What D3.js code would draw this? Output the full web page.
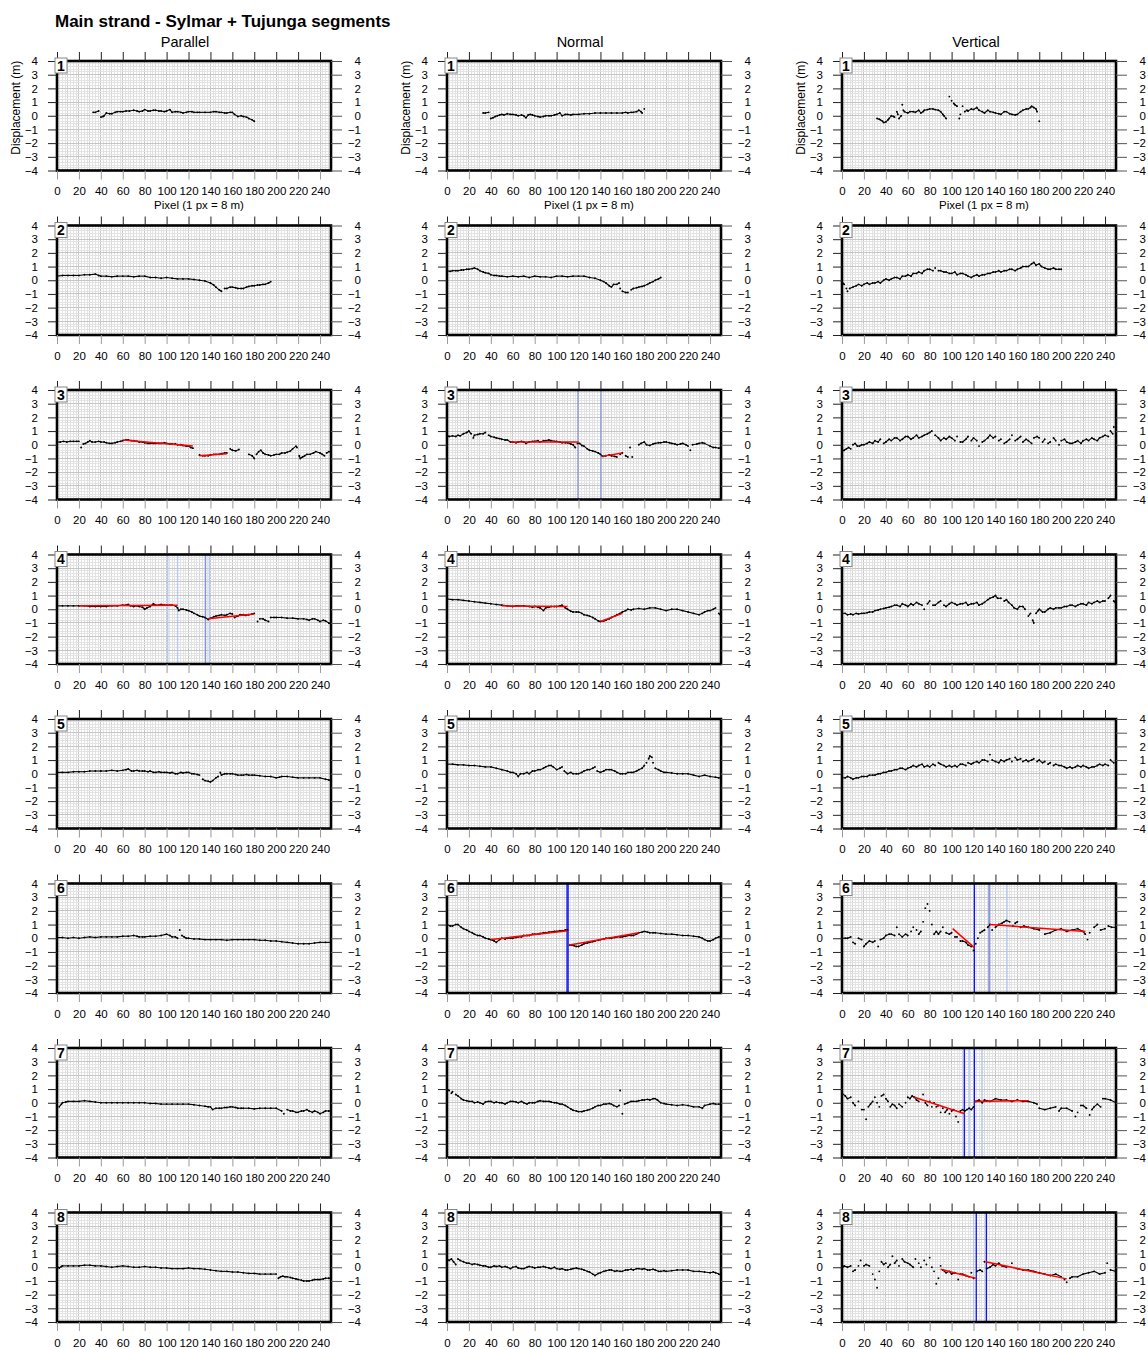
<!DOCTYPE html>
<html>
<head>
<meta charset="utf-8">
<script src="https://cdn.jsdelivr.net/npm/d3@7"></script>
<style>
  body { margin: 0; background: #fff; }
  text { font-family: "Liberation Sans", Arial, Helvetica, sans-serif; fill: #000; }
</style>
</head>
<body>
<svg id="fig" width="1148" height="1349"></svg>
<script>
// ---- labels and axes ----
const chartTitle = "Main strand - Sylmar + Tujunga segments";
const components = ["Parallel", "Normal", "Vertical"];
const profiles = [1, 2, 3, 4, 5, 6, 7, 8];
const xTickValues = [0, 20, 40, 60, 80, 100, 120, 140, 160, 180, 200, 220, 240];
const yTickValues = [-4, -3, -2, -1, 0, 1, 2, 3, 4];
const xDomain = [0, 250];
const yDomain = [-4, 4];
const xAxisTitle = "Pixel (1 px = 8 m)";
const yAxisTitle = "Displacement (m)";

// ---- displacement profiles: [pixel, metres] ----
const par1 = [[33,0.25],[35,0.25],[38,0.35],[40,-0.1],[42,-0.05],[43,0.0],[45,0.2],[48,0.15],[50,0.15],[53,0.25],[55,0.3],[58,0.3],[60,0.3],[63,0.35],[66,0.35],[70,0.4],[73,0.35],[75,0.3],[78,0.35],[80,0.45],[83,0.35],[85,0.35],[88,0.4],[90,0.4],[93,0.35],[95,0.35],[98,0.3],[100,0.35],[103,0.45],[105,0.25],[108,0.3],[110,0.3],[113,0.25],[115,0.2],[118,0.25],[120,0.3],[123,0.3],[125,0.25],[128,0.25],[130,0.25],[135,0.25],[140,0.25],[143,0.3],[145,0.3],[148,0.25],[150,0.25],[153,0.2],[155,0.2],[158,0.25],[160,0.25],[162,0.1],[165,-0.05],[168,0.0],[170,-0.05],[173,-0.1],[175,-0.2],[178,-0.3],[180,-0.4]];
const nor1 = [[33,0.2],[35,0.2],[38,0.25],[40,-0.2],[42,-0.15],[44,-0.05],[46,0.0],[48,0.05],[50,0.1],[52,0.05],[55,0.15],[58,0.1],[60,0.1],[63,0.05],[65,0.0],[68,0.05],[70,0.0],[72,-0.15],[74,0.05],[76,0.1],[78,0.05],[80,0.0],[83,-0.05],[85,-0.1],[88,-0.05],[90,0.0],[93,0.0],[95,0.0],[98,0.05],[100,0.1],[103,0.2],[105,0.0],[108,0.1],[110,0.1],[113,0.05],[115,0.1],[120,0.1],[125,0.15],[130,0.15],[135,0.2],[140,0.2],[145,0.2],[150,0.2],[155,0.2],[160,0.2],[163,0.25],[165,0.2],[168,0.25],[170,0.25],[173,0.3],[175,0.4],[177,0.3],[178,0.2],[180,0.5]];
const ver1 = [[32,-0.2],[34,-0.25],[35,-0.3],[37,-0.4],[38,-0.5],[40,-0.45],[42,-0.3],[43,-0.2],[45,0.0],[47,-0.05],[48,-0.1],[50,0.3],[51,0.1],[52,-0.2],[54,0.0],[55,0.8],[56,0.4],[57,0.3],[60,0.2],[62,0.3],[65,0.3],[67,0.25],[70,0.4],[72,0.2],[74,0.3],[75,0.4],[78,0.45],[80,0.5],[83,0.5],[85,0.45],[88,0.4],[90,0.3],[92,0.1],[93,0.0],[95,-0.2],[98,1.4],[100,1.1],[102,0.9],[103,0.8],[105,0.7],[107,-0.2],[108,0.1],[110,0.7],[112,0.3],[114,0.4],[115,0.35],[118,0.5],[120,0.45],[123,0.6],[125,0.4],[128,0.3],[130,0.2],[133,0.4],[135,0.3],[138,0.25],[140,0.2],[143,0.15],[145,0.1],[148,0.3],[150,0.3],[153,0.15],[155,0.1],[158,0.05],[160,0.1],[163,0.3],[165,0.4],[168,0.5],[170,0.5],[172,0.6],[173,0.7],[175,0.6],[177,0.5],[178,0.3],[180,-0.4]];

const par2 = [[0,0.3],[5,0.35],[10,0.35],[15,0.35],[20,0.35],[25,0.4],[30,0.4],[35,0.45],[38,0.35],[40,0.3],[45,0.3],[50,0.25],[55,0.3],[60,0.3],[65,0.3],[70,0.25],[75,0.3],[80,0.3],[85,0.2],[90,0.2],[95,0.15],[100,0.2],[105,0.15],[110,0.1],[115,0.1],[120,0.1],[125,0.05],[130,0.0],[135,-0.05],[140,-0.2],[143,-0.35],[145,-0.5],[148,-0.7],[150,-0.8],[153,-0.6],[155,-0.6],[158,-0.5],[160,-0.5],[163,-0.55],[165,-0.6],[168,-0.6],[170,-0.6],[173,-0.5],[175,-0.45],[178,-0.4],[180,-0.4],[183,-0.35],[185,-0.35],[188,-0.3],[190,-0.3],[193,-0.2],[195,-0.1]];
const nor2 = [[0,0.7],[3,0.65],[5,0.7],[8,0.7],[10,0.7],[13,0.75],[15,0.75],[18,0.8],[20,0.8],[23,0.85],[25,0.9],[28,0.8],[30,0.7],[33,0.6],[35,0.55],[38,0.5],[40,0.4],[43,0.35],[45,0.35],[48,0.3],[50,0.3],[55,0.25],[60,0.3],[65,0.25],[70,0.3],[75,0.2],[80,0.3],[85,0.25],[90,0.25],[95,0.2],[100,0.3],[105,0.3],[110,0.25],[115,0.3],[120,0.3],[125,0.3],[130,0.2],[135,0.15],[140,0.0],[143,-0.1],[145,-0.2],[148,-0.4],[150,-0.5],[152,-0.3],[155,-0.3],[157,-0.2],[158,-0.6],[160,-0.8],[163,-0.9],[165,-0.9],[168,-0.7],[170,-0.6],[173,-0.55],[175,-0.5],[178,-0.45],[180,-0.4],[183,-0.3],[185,-0.2],[188,-0.1],[190,0.0],[193,0.1],[195,0.2]];
const ver2 = [[0,-0.1],[2,-0.3],[4,-0.6],[5,-0.8],[7,-0.6],[10,-0.5],[13,-0.4],[15,-0.3],[18,-0.4],[20,-0.3],[23,-0.2],[25,-0.3],[28,-0.2],[30,-0.2],[33,-0.1],[35,-0.2],[38,0.0],[40,0.1],[43,0.0],[45,0.1],[48,0.2],[50,0.2],[53,0.1],[55,0.3],[58,0.3],[60,0.4],[63,0.3],[65,0.5],[68,0.5],[70,0.6],[73,0.5],[75,0.7],[78,0.8],[80,0.8],[83,0.7],[85,0.9],[88,0.7],[90,0.7],[93,0.6],[95,0.6],[98,0.5],[100,0.5],[103,0.6],[105,0.4],[108,0.5],[110,0.5],[113,0.4],[115,0.3],[118,0.2],[120,0.3],[123,0.4],[125,0.3],[128,0.4],[130,0.4],[133,0.5],[135,0.5],[138,0.6],[140,0.6],[143,0.7],[145,0.6],[148,0.7],[150,0.7],[153,0.8],[155,0.8],[158,0.7],[160,0.8],[163,0.9],[165,1.0],[168,1.0],[170,1.0],[173,1.2],[175,1.3],[177,1.1],[180,1.2],[182,1.0],[185,0.9],[188,0.8],[190,0.8],[193,0.9],[195,0.8],[198,0.8],[200,0.8]];

const par3 = [[0,0.2],[3,0.2],[6,0.25],[9,0.2],[12,0.25],[15,0.25],[18,0.25],[20,0.25],[22,-0.2],[24,0.05],[26,0.1],[28,0.2],[30,0.3],[32,0.2],[35,0.2],[38,0.25],[40,0.2],[43,0.2],[45,0.15],[48,0.1],[50,0.1],[53,0.15],[55,0.2],[58,0.25],[60,0.3],[63,0.35],[65,0.35],[68,0.3],[70,0.3],[73,0.25],[75,0.2],[78,0.2],[80,0.15],[83,0.1],[85,0.1],[88,0.1],[90,0.1],[93,0.1],[95,0.1],[98,0.15],[100,0.1],[103,0.05],[105,0.05],[108,0.05],[110,0.0],[113,0.0],[115,-0.05],[118,-0.1],[120,-0.1],[122,-0.2],[124,-0.25],[130,-0.75],[133,-0.8],[135,-0.8],[138,-0.8],[140,-0.75],[143,-0.7],[145,-0.7],[148,-0.7],[150,-0.65],[153,-0.6],[155,-0.6],[158,-0.3],[160,-0.4],[163,-0.45],[166,-0.35],[175,-0.7],[178,-0.8],[180,-1.0],[182,-0.7],[184,-0.5],[186,-0.4],[188,-0.6],[190,-0.7],[193,-0.75],[195,-0.8],[198,-0.75],[200,-0.7],[203,-0.7],[205,-0.6],[208,-0.6],[210,-0.55],[213,-0.45],[215,-0.3],[218,-0.1],[219,-0.2],[221,-0.8],[222,-1.0],[224,-0.9],[226,-0.8],[228,-0.7],[231,-0.7],[234,-0.6],[236,-0.5],[240,-0.6],[242,-0.7],[244,-0.8],[246,-0.6],[248,-0.5],[250,-0.55]];
const nor3 = [[0,0.7],[2,0.6],[5,0.65],[8,0.6],[10,0.7],[12,0.65],[15,0.8],[18,0.9],[20,1.0],[22,0.8],[24,0.5],[25,0.7],[28,0.75],[30,0.8],[33,0.8],[35,0.9],[38,0.7],[40,0.6],[43,0.55],[45,0.5],[48,0.45],[50,0.4],[53,0.35],[55,0.35],[58,0.2],[60,0.2],[63,0.15],[65,0.2],[68,0.25],[70,0.2],[72,0.1],[75,0.2],[78,0.25],[80,0.25],[83,0.3],[85,0.2],[88,0.3],[90,0.3],[93,0.35],[95,0.3],[98,0.25],[100,0.25],[103,0.2],[105,0.15],[108,0.15],[110,0.15],[113,0.05],[115,0.0],[117,-0.2],[119,0.1],[121,0.1],[123,-0.05],[125,-0.1],[128,-0.3],[130,-0.4],[133,-0.45],[135,-0.5],[138,-0.6],[140,-0.7],[142,-0.85],[145,-0.8],[148,-0.75],[150,-0.8],[153,-0.85],[155,-0.9],[158,-0.7],[160,-0.6],[163,-0.8],[165,-0.9],[167,-0.2],[169,-0.9],[175,0.0],[177,0.1],[180,0.2],[182,0.0],[185,-0.05],[188,0.05],[190,0.1],[193,0.15],[195,0.15],[198,0.2],[200,0.2],[203,0.15],[205,0.1],[208,0.05],[210,0.0],[213,0.05],[215,0.1],[218,0.0],[220,-0.1],[222,-0.4],[224,0.0],[228,0.05],[230,0.1],[233,0.15],[235,0.1],[240,-0.1],[243,-0.2],[245,-0.2],[248,-0.25],[250,-0.2]];
const ver3 = [[0,-0.5],[2,-0.4],[4,-0.3],[6,-0.2],[8,-0.3],[10,0.0],[12,0.1],[14,-0.1],[16,-0.1],[18,0.0],[20,0.0],[23,0.1],[25,0.2],[28,0.1],[30,0.3],[33,0.2],[35,0.4],[38,0.1],[40,0.2],[43,0.4],[45,0.3],[48,0.5],[50,0.5],[53,0.3],[55,0.4],[58,0.6],[60,0.6],[63,0.4],[65,0.5],[68,0.7],[70,0.5],[73,0.6],[75,0.7],[78,0.8],[80,0.9],[82,1.0],[85,0.7],[88,0.5],[90,0.3],[93,0.5],[95,0.4],[98,0.6],[100,0.5],[103,0.3],[105,0.6],[108,0.2],[110,0.2],[113,0.4],[115,0.6],[118,0.3],[120,0.5],[123,0.3],[125,-0.1],[128,0.2],[130,0.3],[133,0.5],[135,0.7],[138,0.5],[140,0.6],[143,0.3],[145,0.4],[148,0.1],[150,0.2],[153,0.4],[155,0.7],[158,0.3],[160,0.4],[163,0.6],[165,0.2],[168,0.4],[170,0.3],[173,0.1],[175,0.5],[178,0.6],[180,0.5],[183,0.2],[185,0.4],[188,0.1],[190,0.2],[193,0.5],[195,0.3],[198,0.0],[200,0.3],[203,0.4],[205,0.2],[208,0.1],[210,0.1],[213,0.2],[215,0.3],[218,0.1],[220,0.3],[223,0.4],[225,0.3],[228,0.5],[230,0.4],[233,0.3],[235,0.5],[238,0.6],[240,0.7],[243,0.6],[245,1.0],[247,0.8],[248,1.3],[250,1.0]];

const par4 = [[0,0.25],[5,0.25],[10,0.25],[15,0.25],[20,0.25],[25,0.25],[30,0.2],[35,0.2],[40,0.2],[45,0.2],[50,0.25],[55,0.25],[60,0.3],[63,0.3],[65,0.35],[67,0.25],[70,0.2],[73,0.25],[75,0.2],[78,0.15],[80,0.0],[82,0.1],[85,0.2],[88,0.4],[90,0.3],[93,0.3],[95,0.35],[98,0.3],[100,0.3],[103,0.3],[105,0.3],[108,0.25],[110,0.1],[111,-0.1],[113,0.0],[115,0.0],[118,-0.05],[120,-0.1],[123,-0.2],[125,-0.3],[128,-0.4],[130,-0.5],[133,-0.55],[135,-0.6],[138,-0.75],[140,-0.65],[143,-0.55],[145,-0.5],[148,-0.45],[150,-0.4],[153,-0.45],[155,-0.4],[158,-0.3],[160,-0.35],[162,-0.6],[165,-0.5],[167,-0.4],[170,-0.4],[172,-0.45],[175,-0.4],[178,-0.35],[180,-0.3],[183,-0.9],[185,-0.7],[188,-0.7],[190,-0.8],[193,-0.9],[195,-0.6],[198,-0.6],[200,-0.6],[205,-0.6],[210,-0.65],[215,-0.65],[220,-0.7],[225,-0.7],[228,-0.75],[230,-0.8],[233,-0.7],[235,-0.7],[238,-0.8],[240,-0.9],[243,-0.8],[245,-0.85],[248,-1.0],[250,-1.1]];
const nor4 = [[0,0.75],[5,0.7],[10,0.7],[15,0.65],[20,0.6],[25,0.55],[30,0.5],[35,0.45],[40,0.4],[45,0.35],[50,0.3],[55,0.25],[60,0.2],[63,0.25],[65,0.25],[70,0.25],[75,0.2],[78,0.15],[80,0.2],[83,0.15],[85,0.1],[88,-0.1],[90,0.1],[93,0.15],[95,0.2],[98,0.2],[100,0.2],[103,0.25],[105,0.3],[108,0.1],[110,0.0],[113,-0.15],[115,-0.2],[118,-0.2],[120,-0.2],[123,-0.3],[125,-0.4],[128,-0.45],[130,-0.5],[133,-0.6],[135,-0.7],[138,-0.85],[140,-0.9],[143,-0.85],[145,-0.8],[148,-0.7],[150,-0.6],[153,-0.5],[155,-0.4],[158,-0.3],[160,-0.2],[163,-0.1],[165,0.0],[168,-0.05],[170,0.0],[175,0.05],[180,0.0],[185,0.1],[190,0.1],[195,0.0],[200,-0.1],[205,0.0],[210,0.0],[215,-0.1],[220,-0.2],[225,-0.3],[230,-0.4],[233,-0.3],[235,-0.2],[238,-0.1],[240,-0.1],[243,0.0],[245,0.1],[248,-0.3],[250,-0.5]];
const ver4 = [[0,-0.3],[3,-0.3],[5,-0.4],[8,-0.35],[10,-0.4],[13,-0.3],[15,-0.35],[18,-0.3],[20,-0.3],[23,-0.25],[25,-0.2],[28,-0.2],[30,-0.1],[33,-0.05],[35,0.0],[38,0.05],[40,0.1],[43,0.15],[45,0.2],[48,0.3],[50,0.3],[53,0.2],[55,0.4],[58,0.3],[60,0.2],[63,0.4],[65,0.3],[68,0.5],[70,0.4],[73,0.3],[75,0.0],[78,0.4],[80,0.6],[83,0.3],[85,0.3],[88,0.5],[90,0.6],[93,0.3],[95,0.2],[98,0.4],[100,0.5],[103,0.4],[105,0.3],[108,0.4],[110,0.4],[113,0.5],[115,0.3],[118,0.4],[120,0.4],[123,0.5],[125,0.3],[128,0.4],[130,0.5],[133,0.7],[135,0.8],[138,0.9],[140,1.0],[142,0.8],[145,0.8],[148,0.6],[150,0.7],[152,0.5],[155,0.3],[157,0.1],[160,0.0],[162,0.2],[165,0.2],[167,0.0],[170,-0.5],[172,-0.3],[174,-0.8],[175,-1.0],[177,-0.3],[179,-0.1],[180,0.0],[183,-0.2],[185,-0.2],[188,0.0],[190,0.1],[193,0.0],[195,0.1],[198,0.1],[200,0.1],[203,0.2],[205,0.2],[208,0.3],[210,0.3],[213,0.2],[215,0.3],[218,0.4],[220,0.4],[223,0.3],[225,0.5],[228,0.4],[230,0.5],[233,0.6],[235,0.5],[238,0.6],[240,0.6],[243,0.8],[245,1.0],[248,0.6],[250,0.4]];

const par5 = [[0,0.1],[5,0.1],[10,0.1],[15,0.15],[20,0.15],[25,0.15],[30,0.2],[35,0.2],[40,0.2],[45,0.2],[50,0.25],[55,0.2],[60,0.25],[63,0.3],[65,0.35],[68,0.2],[70,0.2],[73,0.25],[75,0.2],[78,0.2],[80,0.2],[83,0.15],[85,0.2],[88,0.1],[90,0.1],[93,0.15],[95,0.1],[98,0.1],[100,0.1],[103,0.05],[105,0.1],[108,0.0],[110,0.0],[113,0.1],[115,0.05],[118,0.1],[120,0.1],[123,0.0],[125,0.0],[128,-0.05],[130,-0.1],[133,-0.4],[135,-0.5],[138,-0.55],[140,-0.6],[142,-0.5],[145,-0.3],[147,-0.2],[149,0.1],[150,-0.1],[153,0.0],[155,0.0],[158,0.0],[160,0.0],[163,-0.05],[165,-0.1],[168,-0.1],[170,-0.1],[173,-0.05],[175,-0.1],[178,-0.1],[180,-0.1],[185,-0.15],[190,-0.2],[195,-0.2],[200,-0.3],[203,-0.25],[205,-0.2],[210,-0.2],[215,-0.25],[220,-0.3],[225,-0.3],[230,-0.3],[235,-0.3],[240,-0.3],[245,-0.4],[248,-0.45],[250,-0.5]];
const nor5 = [[0,0.7],[5,0.7],[10,0.65],[15,0.65],[20,0.6],[25,0.6],[30,0.55],[35,0.5],[40,0.5],[45,0.4],[50,0.3],[55,0.2],[58,0.1],[60,0.1],[63,0.0],[65,-0.2],[67,0.0],[70,0.0],[73,0.1],[75,0.0],[78,0.2],[80,0.2],[83,0.3],[85,0.3],[88,0.4],[90,0.5],[93,0.6],[95,0.6],[97,0.5],[100,0.3],[103,0.4],[105,0.5],[107,0.2],[110,0.0],[113,0.1],[115,0.0],[118,0.0],[120,0.0],[123,0.1],[125,0.2],[128,0.3],[130,0.3],[133,0.4],[135,0.5],[137,0.2],[140,0.1],[143,0.2],[145,0.3],[148,0.3],[150,0.3],[153,0.2],[155,0.1],[158,0.0],[160,0.0],[163,0.0],[165,0.1],[168,0.1],[170,0.1],[173,0.2],[175,0.3],[178,0.4],[180,0.6],[182,0.8],[184,1.1],[185,1.3],[187,1.2],[188,0.8],[190,0.4],[193,0.3],[195,0.2],[198,0.1],[200,0.1],[205,0.05],[210,0.0],[215,0.0],[220,0.0],[225,-0.1],[230,-0.2],[235,-0.1],[240,-0.2],[245,-0.25],[248,-0.3],[250,-0.3]];
const ver5 = [[0,-0.3],[3,-0.3],[5,-0.2],[8,-0.3],[10,-0.4],[13,-0.3],[15,-0.3],[18,-0.2],[20,-0.2],[23,-0.2],[25,-0.1],[28,-0.1],[30,-0.1],[33,0.0],[35,0.0],[38,0.1],[40,0.1],[43,0.2],[45,0.2],[48,0.3],[50,0.3],[53,0.4],[55,0.4],[58,0.3],[60,0.4],[63,0.5],[65,0.6],[68,0.5],[70,0.6],[73,0.7],[75,0.5],[78,0.6],[80,0.5],[83,0.7],[85,0.6],[88,0.8],[90,0.7],[93,0.6],[95,0.5],[98,0.6],[100,0.5],[103,0.6],[105,0.5],[108,0.7],[110,0.7],[113,0.6],[115,0.8],[118,0.7],[120,0.8],[123,0.9],[125,0.8],[128,1.0],[130,1.0],[133,0.9],[135,1.4],[137,1.0],[140,0.9],[143,0.8],[145,1.0],[148,0.9],[150,1.0],[153,1.1],[155,0.9],[158,1.2],[160,1.0],[163,1.1],[165,0.9],[168,1.0],[170,0.9],[173,1.0],[175,1.1],[178,0.9],[180,1.0],[183,0.8],[185,0.9],[188,0.7],[190,0.8],[193,0.6],[195,0.7],[198,0.6],[200,0.6],[203,0.5],[205,0.4],[208,0.5],[210,0.4],[213,0.5],[215,0.6],[218,0.5],[220,0.6],[223,0.5],[225,0.4],[228,0.5],[230,0.5],[233,0.6],[235,0.7],[238,0.6],[240,0.7],[243,0.6],[245,1.0],[248,0.8],[250,0.6]];

const par6 = [[0,0.05],[5,0.05],[10,0.0],[15,0.05],[20,0.0],[25,0.05],[30,0.1],[35,0.05],[40,0.1],[45,0.1],[50,0.1],[55,0.1],[60,0.15],[65,0.15],[70,0.2],[73,0.15],[75,0.1],[78,0.1],[80,0.1],[85,0.15],[90,0.15],[95,0.2],[100,0.3],[103,0.2],[105,0.1],[108,0.1],[110,0.0],[112,0.6],[114,0.2],[116,0.1],[118,0.0],[120,0.0],[125,-0.05],[130,-0.05],[135,-0.1],[140,-0.1],[145,-0.1],[150,-0.1],[155,-0.15],[160,-0.1],[165,-0.1],[170,-0.1],[175,-0.1],[180,-0.1],[185,-0.15],[190,-0.15],[195,-0.2],[200,-0.2],[205,-0.25],[210,-0.3],[215,-0.35],[220,-0.4],[225,-0.4],[230,-0.4],[235,-0.35],[240,-0.3],[245,-0.3],[250,-0.3]];
const nor6 = [[0,1.0],[3,0.9],[5,0.9],[8,1.0],[10,1.0],[13,0.8],[15,0.7],[18,0.6],[20,0.5],[23,0.4],[25,0.3],[28,0.2],[30,0.2],[33,0.1],[35,0.0],[38,-0.05],[40,-0.1],[43,-0.2],[45,-0.3],[48,-0.1],[50,0.0],[53,-0.05],[55,0.0],[58,0.0],[60,0.0],[63,0.05],[65,0.1],[68,0.1],[70,0.2],[73,0.2],[75,0.2],[78,0.3],[80,0.3],[83,0.3],[85,0.35],[88,0.4],[90,0.4],[93,0.45],[95,0.45],[98,0.5],[100,0.5],[103,0.55],[105,0.55],[108,0.6],[110,0.6],[112,-0.5],[114,-0.5],[116,-0.55],[118,-0.6],[120,-0.6],[123,-0.5],[125,-0.4],[128,-0.35],[130,-0.3],[133,-0.25],[135,-0.2],[138,-0.15],[140,-0.1],[143,-0.05],[145,0.0],[148,0.0],[150,0.0],[153,0.05],[155,0.1],[158,0.1],[160,0.1],[163,0.15],[165,0.2],[168,0.2],[170,0.2],[173,0.3],[175,0.4],[178,0.45],[180,0.5],[183,0.45],[185,0.4],[188,0.4],[190,0.4],[195,0.35],[200,0.3],[205,0.3],[210,0.25],[215,0.2],[220,0.2],[225,0.15],[230,0.1],[233,0.0],[235,-0.1],[238,-0.2],[240,-0.2],[243,-0.1],[245,0.0],[248,0.1],[250,0.1]];
const ver6 = [[0,0.0],[3,0.0],[5,0.0],[8,0.1],[10,-0.3],[12,-0.4],[15,0.0],[18,-0.1],[20,-0.6],[22,-0.4],[25,-0.2],[28,-0.3],[30,-0.2],[33,-0.6],[35,-0.1],[38,0.0],[40,0.2],[43,0.3],[45,0.3],[48,0.2],[50,0.8],[52,0.3],[55,0.1],[58,0.3],[60,0.2],[63,0.5],[65,0.8],[68,0.6],[70,0.3],[72,0.5],[74,1.2],[76,2.2],[78,2.5],[80,2.0],[82,1.0],[84,0.3],[86,0.5],[88,0.3],[90,0.5],[92,0.8],[95,0.4],[98,0.3],[100,0.4],[103,0.1],[105,0.1],[108,-0.2],[110,-0.2],[113,-0.3],[115,-0.5],[118,-0.6],[120,-0.9],[122,-0.4],[124,0.0],[126,0.4],[128,0.5],[130,0.6],[133,0.8],[135,1.0],[137,0.6],[140,0.8],[143,1.0],[146,1.1],[148,1.2],[150,1.3],[153,1.2],[156,0.9],[158,1.1],[160,1.2],[163,0.8],[166,0.9],[170,0.8],[175,0.7],[180,0.6],[185,0.3],[190,0.4],[195,0.6],[200,0.7],[205,0.5],[210,0.6],[215,0.7],[220,0.5],[222,0.3],[224,-0.1],[226,0.4],[230,0.8],[233,1.0],[236,0.6],[240,0.7],[243,0.9],[246,0.8],[250,0.8]];

const par7 = [[0,0.0],[2,-0.3],[4,-0.1],[5,0.0],[8,0.05],[10,0.1],[15,0.1],[20,0.1],[25,0.15],[30,0.1],[35,0.05],[40,0.0],[45,0.0],[50,0.0],[55,0.0],[60,0.0],[65,0.0],[70,0.0],[75,0.0],[80,0.0],[85,-0.05],[90,-0.05],[95,-0.1],[100,-0.1],[105,-0.1],[110,-0.1],[115,-0.1],[120,-0.1],[125,-0.15],[130,-0.2],[135,-0.25],[138,-0.3],[140,-0.3],[142,-0.5],[145,-0.4],[148,-0.4],[150,-0.4],[153,-0.35],[155,-0.35],[158,-0.3],[160,-0.3],[163,-0.35],[165,-0.4],[168,-0.4],[170,-0.4],[175,-0.4],[180,-0.45],[185,-0.4],[190,-0.4],[195,-0.4],[200,-0.4],[205,-0.6],[207,-0.8],[210,-0.5],[213,-0.6],[215,-0.6],[218,-0.7],[220,-0.7],[223,-0.6],[225,-0.6],[228,-0.5],[230,-0.6],[233,-0.7],[235,-0.6],[238,-0.7],[240,-0.8],[243,-0.7],[245,-0.6],[248,-0.6],[250,-0.6]];
const nor7 = [[0,1.0],[2,0.9],[4,0.7],[5,0.8],[8,0.6],[10,0.5],[13,0.3],[15,0.2],[18,0.15],[20,0.1],[23,0.1],[25,0.0],[28,0.05],[30,0.0],[33,-0.1],[35,0.05],[38,0.1],[40,0.1],[43,0.0],[45,0.05],[48,0.0],[50,0.0],[53,-0.1],[55,0.0],[58,0.1],[60,0.1],[63,0.05],[65,0.0],[68,0.1],[70,0.0],[73,-0.1],[75,0.0],[78,0.0],[80,0.0],[83,0.1],[85,0.15],[88,0.1],[90,0.1],[93,0.1],[95,0.05],[98,0.0],[100,0.0],[103,-0.1],[105,-0.1],[108,-0.2],[110,-0.3],[113,-0.45],[115,-0.55],[118,-0.6],[120,-0.65],[123,-0.65],[125,-0.6],[128,-0.55],[130,-0.5],[133,-0.4],[135,-0.3],[138,-0.2],[140,-0.2],[143,-0.1],[145,-0.1],[148,-0.05],[150,-0.1],[152,-0.2],[155,-0.3],[157,-0.2],[158,0.9],[160,-0.8],[162,-0.1],[165,0.0],[168,0.1],[170,0.1],[173,0.1],[175,0.15],[178,0.2],[180,0.2],[183,0.25],[185,0.2],[188,0.3],[190,0.3],[192,0.2],[195,0.0],[198,-0.05],[200,-0.1],[205,-0.15],[210,-0.2],[215,-0.15],[220,-0.2],[225,-0.3],[230,-0.3],[233,-0.4],[235,-0.2],[240,-0.1],[243,-0.05],[245,-0.1],[248,-0.1],[250,-0.1]];
const ver7 = [[0,0.7],[3,0.5],[5,0.3],[8,0.4],[10,0.0],[12,-0.2],[15,0.1],[18,-0.5],[20,-0.5],[22,-1.2],[24,-0.3],[26,-0.1],[28,0.1],[30,0.4],[32,0.0],[34,-0.3],[36,0.5],[38,0.6],[40,0.3],[42,0.1],[44,-0.3],[46,-0.1],[48,-0.2],[50,-0.4],[52,-0.1],[55,-0.3],[58,0.0],[60,0.4],[62,0.3],[64,0.5],[66,0.4],[68,0.2],[70,0.1],[74,0.6],[76,0.0],[78,-0.2],[80,0.1],[82,-0.3],[84,0.0],[86,-0.3],[88,-0.2],[90,-0.7],[92,-0.4],[94,-0.7],[96,-0.5],[98,-0.8],[100,-0.6],[102,-0.5],[104,-1.0],[106,-1.4],[108,-0.6],[110,-0.5],[112,-0.6],[114,-0.5],[116,-0.4],[118,-0.5],[120,-0.3],[122,0.1],[125,0.2],[128,0.0],[130,0.2],[135,0.1],[140,0.3],[145,0.2],[150,0.2],[155,0.1],[160,0.2],[165,0.1],[170,0.1],[175,0.0],[178,-0.1],[180,-0.4],[185,-0.5],[190,-0.4],[195,-0.3],[198,-0.6],[200,-0.4],[205,-0.4],[210,-0.6],[213,-1.0],[215,-0.7],[218,-0.2],[220,-0.2],[223,-0.4],[226,-0.9],[228,-0.5],[230,-0.3],[233,-0.1],[236,-0.3],[238,0.3],[240,0.3],[245,0.2],[250,0.0]];

const par8 = [[0,0.1],[2,-0.05],[4,0.05],[5,0.1],[10,0.1],[15,0.1],[20,0.1],[25,0.15],[30,0.15],[35,0.1],[40,0.1],[45,0.05],[50,0.0],[55,0.05],[60,0.1],[65,0.05],[70,0.0],[75,0.0],[80,0.05],[85,0.0],[90,0.0],[95,-0.05],[100,-0.05],[105,-0.1],[110,-0.1],[115,-0.1],[120,-0.05],[125,-0.1],[130,-0.1],[135,-0.15],[140,-0.2],[145,-0.25],[150,-0.3],[155,-0.3],[160,-0.35],[165,-0.35],[170,-0.4],[175,-0.45],[180,-0.45],[185,-0.5],[190,-0.5],[195,-0.5],[200,-0.5],[202,-0.8],[204,-0.7],[206,-0.65],[208,-0.7],[210,-0.7],[213,-0.75],[215,-0.8],[218,-0.85],[220,-0.9],[223,-0.95],[225,-1.0],[228,-1.0],[230,-1.0],[233,-0.95],[235,-0.9],[238,-0.9],[240,-0.9],[243,-0.85],[245,-0.8],[248,-0.8],[250,-0.8]];
const nor8 = [[0,0.6],[2,0.5],[4,0.6],[6,0.4],[8,0.2],[10,0.6],[12,0.5],[15,0.4],[18,0.3],[20,0.3],[23,0.2],[25,0.25],[28,0.2],[30,0.15],[33,0.1],[35,0.1],[38,0.0],[40,0.0],[43,0.1],[45,0.05],[48,0.1],[50,0.0],[53,0.05],[55,0.0],[58,-0.1],[60,0.0],[63,0.05],[65,-0.05],[68,-0.1],[70,-0.1],[73,0.0],[75,0.05],[78,0.0],[80,-0.05],[83,0.0],[85,0.0],[88,0.05],[90,0.0],[93,-0.05],[95,-0.1],[98,0.0],[100,-0.1],[103,-0.15],[105,-0.1],[108,-0.2],[110,-0.2],[113,-0.15],[115,-0.1],[118,-0.05],[120,-0.1],[123,-0.15],[125,-0.2],[128,-0.3],[130,-0.35],[133,-0.5],[135,-0.6],[138,-0.45],[140,-0.4],[143,-0.3],[145,-0.25],[148,-0.2],[150,-0.2],[153,-0.3],[155,-0.25],[158,-0.3],[160,-0.3],[163,-0.2],[165,-0.2],[168,-0.15],[170,-0.2],[173,-0.1],[175,-0.1],[178,-0.15],[180,-0.1],[183,-0.2],[185,-0.2],[188,-0.15],[190,-0.2],[193,-0.3],[195,-0.3],[198,-0.25],[200,-0.3],[205,-0.25],[210,-0.2],[215,-0.2],[220,-0.2],[225,-0.3],[230,-0.3],[235,-0.35],[240,-0.4],[243,-0.35],[245,-0.4],[248,-0.5],[250,-0.6]];
const ver8 = [[0,-0.1],[2,0.1],[5,0.0],[8,0.1],[10,-0.3],[12,-0.2],[15,0.1],[17,0.5],[20,0.1],[22,0.2],[25,0.1],[28,-0.5],[30,-0.9],[32,-1.5],[34,-0.3],[36,0.4],[38,0.2],[40,0.3],[42,0.0],[44,0.2],[46,0.8],[48,0.3],[50,0.5],[52,0.1],[55,0.6],[57,0.4],[60,0.3],[62,0.2],[65,0.0],[67,0.6],[70,0.3],[72,0.0],[75,0.5],[77,0.2],[80,0.7],[82,0.0],[84,-0.3],[86,-1.2],[88,-0.8],[90,0.1],[92,-0.2],[95,-0.4],[98,-0.3],[100,-0.5],[103,-0.4],[106,-0.9],[108,-0.5],[110,-0.5],[113,-0.6],[116,-0.7],[118,-0.4],[120,-0.8],[123,-0.3],[126,-0.2],[128,-0.3],[130,0.4],[132,-0.1],[135,0.0],[138,0.2],[140,0.1],[143,0.3],[146,0.1],[150,0.0],[155,0.3],[160,-0.1],[165,-0.2],[170,-0.2],[175,-0.3],[180,-0.4],[185,-0.5],[190,-0.6],[195,-0.5],[200,-0.7],[203,-0.9],[205,-1.1],[208,-0.8],[210,-0.7],[215,-0.7],[220,-0.5],[225,-0.4],[230,-0.3],[235,-0.5],[240,-0.4],[242,0.3],[245,-0.2],[250,-0.3]];

// ---- fitted offset segments: [[x0, v0], [x1, v1]] ----
const fitPar3 = [[[60,0.35],[124,-0.1]], [[130,-0.8],[155,-0.65]]];
const fitNor3 = [[[58,0.2],[120,0.2]], [[141,-0.85],[160,-0.6]]];
const fitPar4 = [[[20,0.25],[110,0.3]], [[138,-0.7],[180,-0.35]]];
const fitNor4 = [[[50,0.25],[110,0.2]], [[140,-0.9],[160,-0.3]]];
const fitNor6 = [[[40,-0.1],[110,0.55]], [[112,-0.5],[175,0.4]]];
const fitVer6 = [[[101,0.7],[121,-0.7]], [[135,1.0],[222,0.5]]];
const fitVer7 = [[[66,0.4],[112,-0.8]], [[121,0.1],[170,0.15]]];
const fitVer8 = [[[90,-0.15],[122,-0.8]], [[131,0.4],[205,-0.85]]];

// ---- rupture picks: [pixel, rank] (1 = primary, 2 = secondary, 3 = tentative) ----
const pickNor3 = [[119.5,2],[140.5,2]];
const pickPar4 = [[101,3],[110,3],[135.5,2],[139,3]];
const pickNor6 = [[109.5,1],[110.5,1]];
const pickVer6 = [[120.8,1],[134,2],[134.8,2],[150.5,3]];
const pickVer7 = [[111.6,1],[116,3],[120.8,1],[127.8,3]];
const pickVer8 = [[120.1,3],[122.5,1],[131.7,1]];

// tables assembled per component column
const tracks = [
  [par1, par2, par3, par4, par5, par6, par7, par8],
  [nor1, nor2, nor3, nor4, nor5, nor6, nor7, nor8],
  [ver1, ver2, ver3, ver4, ver5, ver6, ver7, ver8]
];
const fits = [
  [null, null, fitPar3, fitPar4, null, null, null, null],
  [null, null, fitNor3, fitNor4, null, fitNor6, null, null],
  [null, null, null, null, null, fitVer6, fitVer7, fitVer8]
];
const picks = [
  [null, null, null, pickPar4, null, null, null, null],
  [null, null, pickNor3, null, null, pickNor6, null, null],
  [null, null, null, null, null, pickVer6, pickVer7, pickVer8]
];

// ---- layout ----
const colLeft = [57, 447, 842];
const colTitleX = [185, 580, 976];
const panelW = 274, panelH = 109.5;
const rowTop0 = 61, rowStep = 164.5;
const pickColour = {1: "#1010f2", 2: "#8793d8", 3: "#b7c8f2"};
const pickWidth = {1: 1.3, 2: 1.3, 3: 1.4};

const svg = d3.select("#fig");

svg.append("text")
  .attr("x", 55).attr("y", 27)
  .attr("font-size", 17).attr("font-weight", "bold")
  .text(chartTitle);

components.forEach((comp, ci) => {
  svg.append("text")
    .attr("x", colTitleX[ci]).attr("y", 46.5)
    .attr("text-anchor", "middle").attr("font-size", 14.5)
    .text(comp);
});

const x = d3.scaleLinear().domain(xDomain).range([0, panelW]);
const y = d3.scaleLinear().domain(yDomain).range([panelH, 0]);

const minorX = d3.range(xDomain[0], xDomain[1] + 0.001, 2.5);
const minorY = d3.range(yDomain[0], yDomain[1] + 0.001, 0.2);
const fmt = d => (d < 0 ? "\u2212" + (-d) : String(d));

components.forEach((comp, ci) => {
  profiles.forEach((pid, pi) => {
    const left = colLeft[ci];
    const top = rowTop0 + pi * rowStep;
    const g = svg.append("g").attr("transform", `translate(${left},${top})`);

    // background and grid
    g.append("rect").attr("width", panelW).attr("height", panelH).attr("fill", "#fff");
    const grid = g.append("g").attr("shape-rendering", "crispEdges");
    grid.selectAll(".gx").data(minorX).join("line")
      .attr("x1", d => x(d)).attr("x2", d => x(d))
      .attr("y1", 0).attr("y2", panelH)
      .attr("stroke", d => (d % 20 === 0 ? "#c6c6c6" : (d % 10 === 0 ? "#d6d6d6" : "#e3e3e3")))
      .attr("stroke-width", 1);
    grid.selectAll(".gy").data(minorY).join("line")
      .attr("y1", d => y(d)).attr("y2", d => y(d))
      .attr("x1", 0).attr("x2", panelW)
      .attr("stroke", d => (Math.abs(d - Math.round(d)) < 1e-6 ? "#c6c6c6" : "#e3e3e3"))
      .attr("stroke-width", 1);

    // rupture picks
    const pk = picks[ci][pi];
    if (pk) {
      g.selectAll(".pick").data(pk).join("line")
        .attr("x1", d => x(d[0])).attr("x2", d => x(d[0]))
        .attr("y1", 0).attr("y2", panelH)
        .attr("stroke", d => pickColour[d[1]])
        .attr("stroke-width", d => pickWidth[d[1]]);
    }

    // profile samples: short links between close samples plus dots
    const data = tracks[ci][pi];
    const links = [];
    for (let i = 1; i < data.length; i++) {
      const a = data[i - 1], b = data[i];
      if (b[0] - a[0] <= 5 && Math.abs(b[1] - a[1]) <= 0.2) links.push([a, b]);
    }
    g.selectAll(".lnk").data(links).join("line")
      .attr("x1", d => x(d[0][0])).attr("y1", d => y(d[0][1]))
      .attr("x2", d => x(d[1][0])).attr("y2", d => y(d[1][1]))
      .attr("stroke", "#000").attr("stroke-width", 1.1);
    g.selectAll(".pt").data(data).join("circle")
      .attr("cx", d => x(d[0])).attr("cy", d => y(d[1]))
      .attr("r", 0.95).attr("fill", "#000");

    // fitted segments
    const ft = fits[ci][pi];
    if (ft) {
      g.selectAll(".fit").data(ft).join("line")
        .attr("x1", d => x(d[0][0])).attr("y1", d => y(d[0][1]))
        .attr("x2", d => x(d[1][0])).attr("y2", d => y(d[1][1]))
        .attr("stroke", "#ff0000").attr("stroke-width", 1.5);
    }

    // frame
    g.append("rect").attr("width", panelW).attr("height", panelH)
      .attr("fill", "none").attr("stroke", "#000").attr("stroke-width", 2.6);

    // axes
    const axB = g.append("g").attr("transform", `translate(0,${panelH})`)
      .call(d3.axisBottom(x).tickValues(xTickValues).tickSize(9).tickPadding(7.5).tickFormat(fmt));
    axB.selectAll("line").attr("stroke", "#9a9a9a");
    const axT = g.append("g")
      .call(d3.axisTop(x).tickValues(xTickValues).tickSize(9).tickFormat(""));
    axT.selectAll("line").attr("stroke", "#222");
    const axL = g.append("g")
      .call(d3.axisLeft(y).tickValues(yTickValues).tickSize(9).tickPadding(10).tickFormat(fmt));
    axL.selectAll("line").attr("stroke", "#222");
    const axR = g.append("g").attr("transform", `translate(${panelW},0)`)
      .call(d3.axisRight(y).tickValues(yTickValues).tickSize(11).tickFormat(fmt));
    axR.selectAll("line").attr("stroke", "#555");
    axR.selectAll("text").attr("text-anchor", "end").attr("x", 30);
    [axB, axT, axL, axR].forEach(a => {
      a.select(".domain").remove();
      a.selectAll("text").attr("font-size", 11.5).attr("fill", "#000")
        .attr("font-family", "'Liberation Sans', Arial, Helvetica, sans-serif");
    });

    // profile number tag
    g.append("rect").attr("x", -2).attr("y", -3).attr("width", 12).attr("height", 15)
      .attr("fill", "#fff").attr("stroke", "#888").attr("stroke-width", 1);
    g.append("text").attr("x", 4).attr("y", 9.5).attr("text-anchor", "middle")
      .attr("font-size", 14).attr("font-weight", "bold").text(pid);

    // axis titles on the first row
    if (pi === 0) {
      g.append("text")
        .attr("transform", `translate(-37.5,${panelH / 2 - 8}) rotate(-90)`)
        .attr("text-anchor", "middle").attr("font-size", 12)
        .text(yAxisTitle);
      g.append("text")
        .attr("x", panelW / 2 + 5).attr("y", panelH + 38.5)
        .attr("text-anchor", "middle").attr("font-size", 11.5)
        .text(xAxisTitle);
    }
  });
});
</script>
</body>
</html>
